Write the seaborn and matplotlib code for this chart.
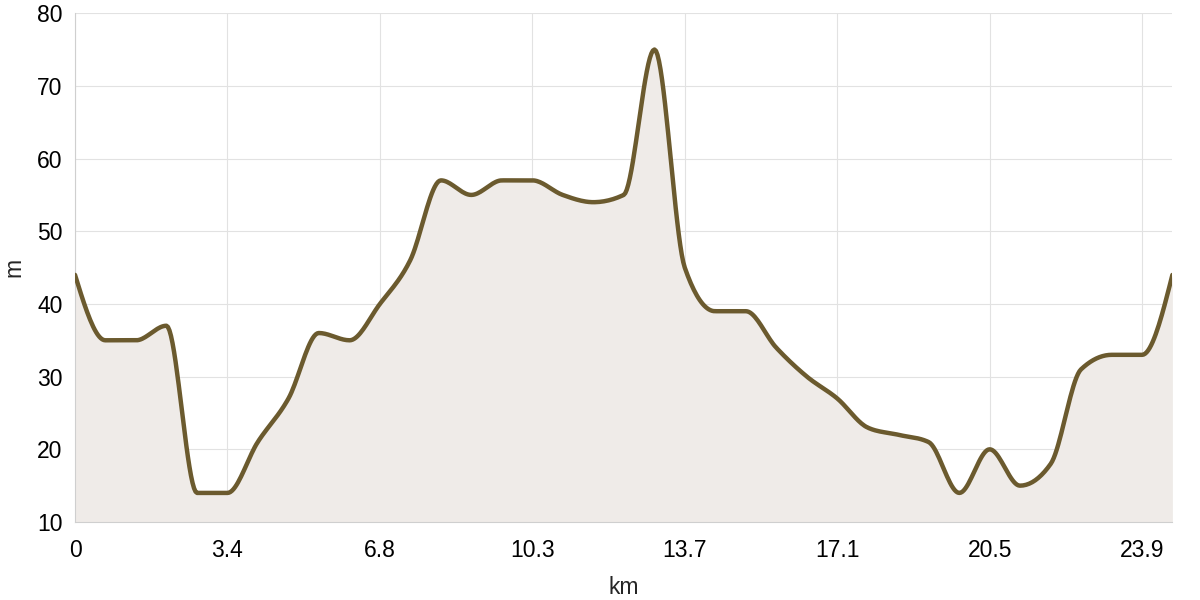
import numpy as np
import pandas as pd
import matplotlib
matplotlib.use("Agg")
import matplotlib.pyplot as plt
import seaborn as sns

# distance along the route (km) and elevation (m)
km = [0, 0.68, 1.37, 2.05, 2.74, 3.42, 4.10, 4.79, 5.47, 6.16, 6.84, 7.52,
      8.21, 8.89, 9.58, 10.26, 10.94, 11.63, 12.31, 13.00, 13.68, 14.36,
      15.05, 15.73, 16.42, 17.10, 17.78, 18.47, 19.15, 19.84, 20.52, 21.20,
      21.89, 22.57, 23.26, 23.94, 24.62]
elev = [44, 35, 35, 37, 14, 14, 21, 27, 36, 35, 40, 46,
        57, 55, 57, 57, 55, 54, 55, 75, 45, 39,
        39, 34, 30, 27, 23, 22, 21, 14, 20, 15,
        18, 31, 33, 33, 44]
tick_km = [0, 3.42, 6.84, 10.26, 13.68, 17.10, 20.52, 23.94]
tick_labels = ["0", "3.4", "6.8", "10.3", "13.7", "17.1", "20.5", "23.9"]

LINE = "#6b5a2e"
FILL = "#efebe8"
GRID = "#e2e2e2"


def monotone(x, y, n=20):
    # monotone cubic (d3 curveMonotoneX style) for drawing the line
    x = np.asarray(x, float)
    y = np.asarray(y, float)
    h = np.diff(x)
    s = np.diff(y) / h
    m = np.zeros_like(y)
    for i in range(1, len(y) - 1):
        s0, s1 = s[i - 1], s[i]
        p = (s0 * h[i] + s1 * h[i - 1]) / (h[i - 1] + h[i])
        m[i] = (np.sign(s0) + np.sign(s1)) * min(abs(s0), abs(s1), 0.5 * abs(p))
    m[0] = (3 * s[0] - m[1]) / 2
    m[-1] = (3 * s[-1] - m[-2]) / 2
    xs, ys = [], []
    for i in range(len(h)):
        t = np.linspace(0, 1, n, endpoint=False)
        h00 = 2 * t**3 - 3 * t**2 + 1
        h10 = t**3 - 2 * t**2 + t
        h01 = -2 * t**3 + 3 * t**2
        h11 = t**3 - t**2
        xs.append(x[i] + t * h[i])
        ys.append(h00 * y[i] + h10 * h[i] * m[i] + h01 * y[i + 1] + h11 * h[i] * m[i + 1])
    xs.append([x[-1]])
    ys.append([y[-1]])
    return np.concatenate(xs), np.concatenate(ys)


sx, sy = monotone(km, elev)
df = pd.DataFrame({"km": sx, "m": sy})

sns.set_style("white")
plt.rcParams["font.family"] = ["Liberation Sans", "DejaVu Sans"]

fig, ax = plt.subplots(figsize=(12, 6), dpi=100)
fig.subplots_adjust(left=0.0625, right=0.977, top=0.978, bottom=0.13)

ax.fill_between(df["km"], df["m"], 10, color=FILL, lw=0, zorder=1)
sns.lineplot(data=df, x="km", y="m", color=LINE, linewidth=3.2, sort=False,
             ax=ax, zorder=3)

ax.set_xlim(km[0], km[-1])
ax.set_ylim(10, 80)
ax.set_xticks(tick_km)
ax.set_xticklabels(tick_labels)
ax.set_yticks(range(10, 81, 10))

ax.grid(True, color=GRID, linewidth=0.8, zorder=0)
ax.set_axisbelow(True)
for side in ["top", "right"]:
    ax.spines[side].set_visible(False)
for side in ["left", "bottom"]:
    ax.spines[side].set_color("#cfcfcf")
    ax.spines[side].set_linewidth(0.8)

ax.tick_params(axis="both", length=7, width=0.8, color="#cfcfcf",
               labelsize=16.5, labelcolor="black")
ax.tick_params(axis="y", pad=2)
ax.tick_params(axis="x", pad=5)

ax.set_xlabel("km", fontsize=16.5, labelpad=10)
ax.set_ylabel("m", fontsize=16.5, labelpad=8)

plt.savefig("out.png", dpi=100)
